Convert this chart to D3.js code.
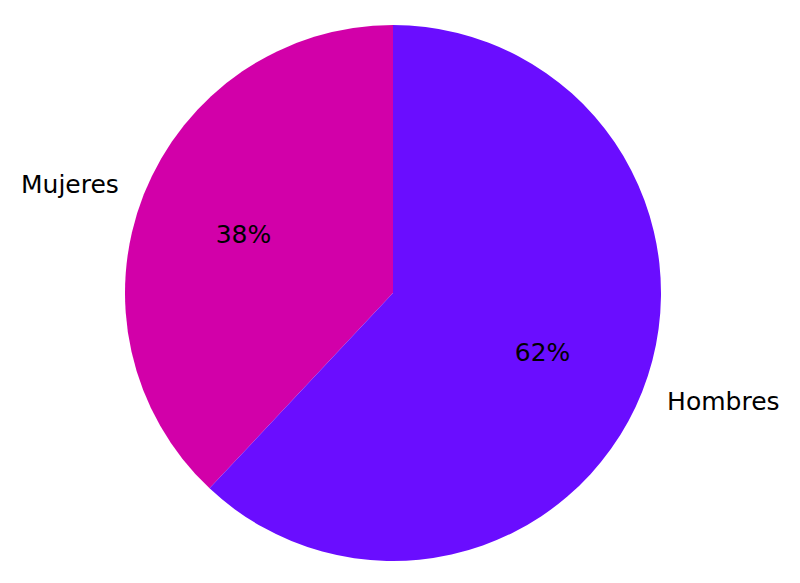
<!DOCTYPE html>
<html>
<head>
<meta charset="utf-8">
<script src="https://cdn.jsdelivr.net/npm/d3@7"></script>
<style>
  body { margin: 0; background: #fff; }
  text { font-family: "DejaVu Sans", sans-serif; }
</style>
</head>
<body>
<div id="chart"></div>
<script>
var labels = ["Mujeres", "Hombres"];
var values = [38, 62];
var colors = ["#d200a9", "#6a0dff"];

var width = 800,
    height = 583,
    cx = 393,
    cy = 293,
    radius = 268;

var data = labels.map(function (l, i) {
    return { label: l, value: values[i] };
});

// start at 12 o'clock, go counterclockwise like matplotlib startangle=90
var pie = d3.pie()
    .sort(null)
    .startAngle(0)
    .endAngle(-2 * Math.PI)
    .value(function (d) { return d.value; });

var arc = d3.arc().innerRadius(0).outerRadius(radius);
var pctArc = d3.arc().innerRadius(radius * 0.6).outerRadius(radius * 0.6);
var labelArc = d3.arc().innerRadius(radius * 1.1).outerRadius(radius * 1.1);

var total = d3.sum(values);

var svg = d3.select("#chart").append("svg")
    .attr("width", width)
    .attr("height", height)
    .append("g")
    .attr("transform", "translate(" + cx + "," + cy + ")");

var g = svg.selectAll(".arc")
    .data(pie(data))
    .enter().append("g")
    .attr("class", "arc");

g.append("path")
    .attr("d", arc)
    .style("fill", function (d, i) { return colors[i]; });

g.append("text")
    .attr("transform", function (d) { return "translate(" + pctArc.centroid(d) + ")"; })
    .attr("dy", ".35em")
    .attr("text-anchor", "middle")
    .style("font-size", "25px")
    .style("fill", "#000")
    .text(function (d) { return Math.round(d.data.value / total * 100) + "%"; });

g.append("text")
    .attr("transform", function (d) { return "translate(" + labelArc.centroid(d) + ")"; })
    .attr("dy", ".35em")
    .attr("text-anchor", function (d) { return labelArc.centroid(d)[0] < 0 ? "end" : "start"; })
    .style("font-size", "25px")
    .style("fill", "#000")
    .text(function (d) { return d.data.label; });
</script>
</body>
</html>
